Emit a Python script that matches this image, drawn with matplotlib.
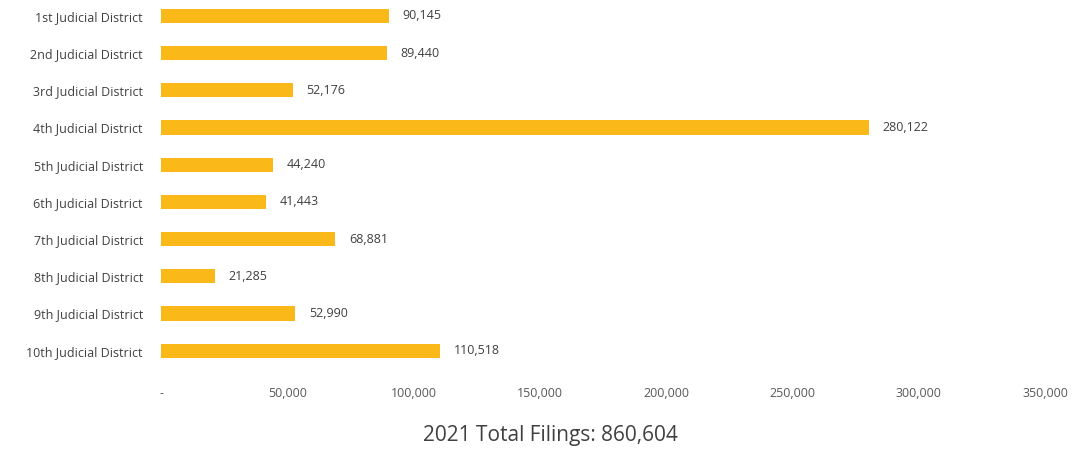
import matplotlib
matplotlib.use('Agg')
import matplotlib.pyplot as plt

plt.rcParams['font.family'] = ['Open Sans', 'DejaVu Sans']

# ---- data ----
districts = ['1st Judicial District', '2nd Judicial District', '3rd Judicial District',
             '4th Judicial District', '5th Judicial District', '6th Judicial District',
             '7th Judicial District', '8th Judicial District', '9th Judicial District',
             '10th Judicial District']
filings = [90145, 89440, 52176, 280122, 44240, 41443, 68881, 21285, 52990, 110518]
xticks = [0, 50000, 100000, 150000, 200000, 250000, 300000, 350000]
xtick_labels = ['-', '50,000', '100,000', '150,000', '200,000', '250,000', '300,000', '350,000']
footer = '2021 Total Filings: 860,604'

bar_color = '#FBB919'
txt_color = '#404040'

fig = plt.figure(figsize=(10.78, 4.49), dpi=100)
ax = fig.add_axes([161 / 1078, 1 - 370 / 449, (1045 - 161) / 1078, 370 / 449])

y = list(range(len(districts)))
ax.barh(y, filings, height=0.38, color=bar_color)

# value labels right of each bar
for yi, v in zip(y, filings):
    ax.annotate(f'{v:,}', (v, yi), xytext=(10, 0), textcoords='offset points',
                va='center', ha='left', fontsize=9, color=txt_color)

ax.set_ylim(9.52, -0.43)
ax.set_xlim(0, 350000)
ax.set_yticks(y)
ax.set_yticklabels(districts, fontsize=9, color=txt_color)
ax.set_xticks(xticks)
ax.set_xticklabels(xtick_labels, fontsize=9, color='#595959')
ax.tick_params(axis='y', length=0, pad=13)
ax.tick_params(axis='x', length=0, pad=12)

for s in ax.spines.values():
    s.set_visible(False)

fig.text(550 / 1078, 1 - 435 / 449, footer, ha='center', va='center',
         fontsize=15, color='#404040')

fig.savefig('out.png', dpi=100)
